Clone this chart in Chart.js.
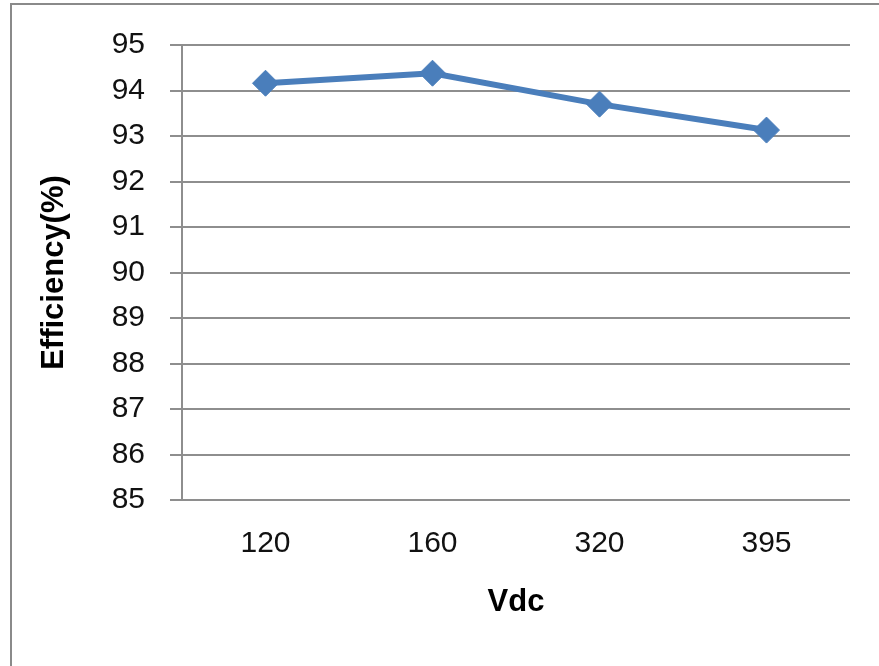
<!DOCTYPE html>
<html>
<head>
<meta charset="utf-8">
<script src="https://cdn.jsdelivr.net/npm/chart.js@4"></script>
<style>
  html, body { margin: 0; padding: 0; background: #fff; overflow: hidden; }
  #wrap { position: relative; width: 879px; height: 666px; }
  #frame {
    position: absolute; left: 10px; top: 3px; width: 900px; height: 700px;
    border: 2px solid #8a8a8a; box-sizing: border-box;
  }
  canvas { position: absolute; left: 0; top: 0; }
</style>
</head>
<body>
<div id="wrap">
  <div id="frame"></div>
  <canvas id="chart" width="879" height="666"></canvas>
</div>
<script>
const categories = ["120", "160", "320", "395"];
const efficiency = [94.16, 94.38, 93.7, 93.13];
const yTicks = [85, 86, 87, 88, 89, 90, 91, 92, 93, 94, 95];

const fontFamily = "'Liberation Sans', Arial, sans-serif";
const gridGray = "#8e8e8e";
const lineBlue = "#4a7ebb";

const ctx = document.getElementById("chart").getContext("2d");

new Chart(ctx, {
  type: "line",
  data: {
    labels: categories,
    datasets: [
      {
        label: "Efficiency",
        data: efficiency,
        borderColor: lineBlue,
        backgroundColor: lineBlue,
        borderWidth: 6,
        pointStyle: "rectRot",
        pointRadius: 13,
        pointBorderWidth: 1,
        pointBackgroundColor: lineBlue,
        pointBorderColor: lineBlue,
        tension: 0,
      },
    ],
  },
  options: {
    responsive: false,
    animation: false,
    layout: {
      padding: { left: 0, top: 45, right: 29, bottom: 0 },
    },
    plugins: {
      legend: { display: false },
      tooltip: { enabled: false },
    },
    scales: {
      x: {
        offset: true,
        grid: { display: false, drawTicks: false, tickLength: 0 },
        border: { display: false },
        ticks: {
          color: "#111",
          padding: 26,
          font: { family: fontFamily, size: 30 },
        },
        title: {
          display: true,
          text: "Vdc",
          color: "#000",
          padding: { top: 0, bottom: 45 },
          font: { family: fontFamily, size: 31, weight: "bold" },
        },
        afterFit: (scale) => {
          scale.height = 166;
        },
      },
      y: {
        min: 85,
        max: 95,
        afterBuildTicks: (scale) => {
          scale.ticks = yTicks.map((v) => ({ value: v }));
        },
        grid: {
          color: gridGray,
          lineWidth: 2,
          drawTicks: true,
          tickLength: 12,
        },
        border: { display: true, color: gridGray, width: 2 },
        ticks: {
          color: "#111",
          padding: 25,
          font: { family: fontFamily, size: 30 },
        },
        title: {
          display: true,
          text: "Efficiency(%)",
          color: "#000",
          padding: { top: 36, bottom: 0 },
          font: { family: fontFamily, size: 31, weight: "bold" },
        },
        afterFit: (scale) => {
          scale.width = 182;
        },
      },
    },
  },
});
</script>
</body>
</html>
